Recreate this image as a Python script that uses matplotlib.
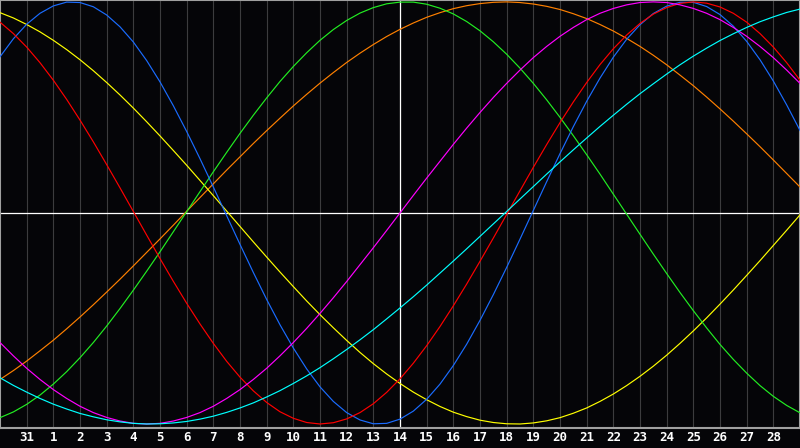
import numpy as np
import matplotlib
matplotlib.use("Agg")
import matplotlib.pyplot as plt

#____________________Daten_______________________________
# x in half days, 0 = day 30 of the previous month, 30 = day 29
days = np.arange(0, 30.01, 0.5)
tick_pos = list(range(1, 30))
tick_labels = ["31"] + [str(d) for d in range(1, 29)]

red = [0.904, 0.850, 0.786, 0.712, 0.629, 0.538, 0.440, 0.337, 0.229, 0.119, 0.007,
       -0.105, -0.216, -0.324, -0.428, -0.526, -0.618, -0.703, -0.778, -0.843, -0.898,
       -0.942, -0.973, -0.993, -1.000, -0.994, -0.976, -0.946, -0.904, -0.850, -0.786,
       -0.712, -0.629, -0.538, -0.440, -0.337, -0.229, -0.119, -0.007, 0.105, 0.216,
       0.324, 0.428, 0.526, 0.618, 0.703, 0.778, 0.843, 0.898, 0.942, 0.973,
       0.993, 1.000, 0.994, 0.976, 0.946, 0.904, 0.850, 0.786, 0.712, 0.629]
blue = [0.740, 0.825, 0.894, 0.946, 0.981, 0.999, 0.997, 0.977, 0.938, 0.882, 0.810,
        0.722, 0.621, 0.508, 0.386, 0.257, 0.123, -0.013, -0.149, -0.282, -0.410,
        -0.530, -0.640, -0.739, -0.824, -0.893, -0.946, -0.981, -0.999, -0.997, -0.977,
        -0.939, -0.883, -0.811, -0.723, -0.622, -0.509, -0.387, -0.258, -0.124, 0.012,
        0.148, 0.281, 0.409, 0.529, 0.639, 0.738, 0.823, 0.892, 0.945, 0.980,
        0.998, 0.998, 0.978, 0.940, 0.885, 0.813, 0.726, 0.625, 0.512, 0.391]
green = [-0.970, -0.943, -0.907, -0.863, -0.811, -0.752, -0.686, -0.614, -0.536, -0.453, -0.366,
         -0.276, -0.184, -0.089, 0.006, 0.101, 0.195, 0.287, 0.377, 0.463, 0.545,
         0.623, 0.694, 0.759, 0.818, 0.869, 0.912, 0.947, 0.973, 0.991, 0.999,
         0.999, 0.989, 0.970, 0.943, 0.907, 0.863, 0.811, 0.752, 0.686, 0.614,
         0.536, 0.453, 0.366, 0.276, 0.184, 0.089, -0.006, -0.101, -0.195, -0.287,
         -0.377, -0.463, -0.545, -0.623, -0.694, -0.759, -0.818, -0.869, -0.912, -0.947]
yellow = [0.949, 0.924, 0.893, 0.858, 0.818, 0.774, 0.726, 0.674, 0.618, 0.559, 0.497,
          0.432, 0.365, 0.296, 0.226, 0.154, 0.082, 0.009, -0.064, -0.137, -0.209,
          -0.280, -0.349, -0.417, -0.482, -0.544, -0.604, -0.661, -0.714, -0.763, -0.808,
          -0.849, -0.885, -0.917, -0.944, -0.965, -0.982, -0.993, -0.999, -1.000, -0.995,
          -0.985, -0.970, -0.949, -0.924, -0.893, -0.858, -0.818, -0.774, -0.726, -0.674,
          -0.618, -0.559, -0.497, -0.432, -0.365, -0.296, -0.226, -0.154, -0.082, -0.009]
magenta = [-0.614, -0.677, -0.736, -0.789, -0.837, -0.879, -0.916, -0.946, -0.969, -0.986, -0.997,
           -1.000, -0.997, -0.986, -0.969, -0.946, -0.916, -0.879, -0.837, -0.789, -0.736,
           -0.677, -0.614, -0.547, -0.476, -0.402, -0.325, -0.245, -0.165, -0.083, 0.0,
           0.083, 0.165, 0.245, 0.325, 0.402, 0.476, 0.547, 0.614, 0.677, 0.736,
           0.789, 0.837, 0.879, 0.916, 0.946, 0.969, 0.986, 0.997, 1.000, 0.997,
           0.986, 0.969, 0.946, 0.916, 0.879, 0.837, 0.789, 0.736, 0.677, 0.614]
cyan = [-0.781, -0.817, -0.849, -0.879, -0.906, -0.929, -0.950, -0.966, -0.980, -0.990, -0.997,
        -1.000, -0.999, -0.995, -0.988, -0.977, -0.963, -0.945, -0.924, -0.900, -0.872,
        -0.842, -0.808, -0.772, -0.733, -0.691, -0.647, -0.601, -0.553, -0.502, -0.450,
        -0.397, -0.342, -0.285, -0.228, -0.170, -0.111, -0.052, 0.007, 0.066, 0.125,
        0.184, 0.242, 0.299, 0.355, 0.410, 0.463, 0.515, 0.565, 0.612, 0.658,
        0.702, 0.743, 0.781, 0.817, 0.849, 0.879, 0.906, 0.929, 0.950, 0.966]
orange = [-0.789, -0.747, -0.702, -0.653, -0.603, -0.549, -0.493, -0.435, -0.375, -0.314, -0.251,
          -0.187, -0.123, -0.058, 0.008, 0.073, 0.138, 0.203, 0.266, 0.329, 0.390,
          0.449, 0.507, 0.562, 0.615, 0.665, 0.713, 0.757, 0.798, 0.836, 0.870,
          0.900, 0.927, 0.949, 0.968, 0.982, 0.992, 0.998, 1.000, 0.997, 0.990,
          0.979, 0.964, 0.944, 0.921, 0.893, 0.862, 0.827, 0.789, 0.747, 0.702,
          0.653, 0.603, 0.549, 0.493, 0.435, 0.375, 0.314, 0.251, 0.187, 0.123]

#__________________________Plot_________________________
bg = "#050508"
fig = plt.figure(figsize=(8, 4.48), dpi=100, facecolor=bg)
ax = fig.add_axes([0, 20/448, 1, 428/448])
ax.set_facecolor(bg)

for p in tick_pos:
    ax.axvline(p, color="#3c3c3e", lw=0.8, zorder=1)
ax.axvline(15, color="white", lw=0.9, zorder=2)
ax.axhline(0, color="white", lw=0.9, zorder=2)

lw = 0.85
ax.plot(days, orange, color="#ff8000", lw=lw, zorder=3)
ax.plot(days, yellow, color="#ffff00", lw=lw, zorder=3)
ax.plot(days, green, color="#22ee22", lw=lw, zorder=3)
ax.plot(days, blue, color="#1a6cff", lw=lw, zorder=3)
ax.plot(days, red, color="#ff0000", lw=lw, zorder=3)
ax.plot(days, magenta, color="#ff00ff", lw=lw, zorder=3)
ax.plot(days, cyan, color="#00ffff", lw=lw, zorder=3)

ax.set_xlim(0, 30)
ax.set_ylim(-1.019, 1.009)
ax.set_yticks([])
ax.set_xticks(tick_pos)
ax.set_xticklabels(tick_labels, color="white", fontsize=9,
                   fontweight="bold", family="DejaVu Sans Mono")
ax.tick_params(axis="x", length=0, pad=2.5)
for s in ax.spines.values():
    s.set_color("#a0a0a0")
    s.set_linewidth(1.5)

fig.savefig("out.png", dpi=100, facecolor=bg)
